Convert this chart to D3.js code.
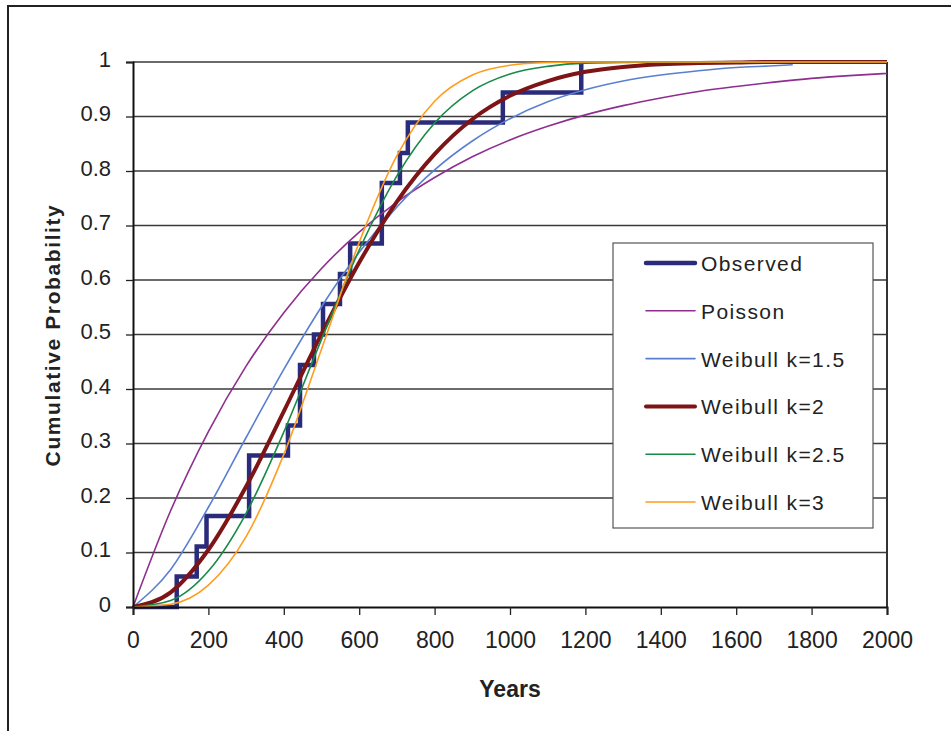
<!DOCTYPE html>
<html>
<head>
<meta charset="utf-8">
<script src="https://cdn.jsdelivr.net/npm/d3@7.9.0/dist/d3.min.js"></script>
<style>
  body { margin: 0; background: #fff; }
  svg { display: block; }
  text { font-family: "Liberation Sans", Arial, sans-serif; fill: #222; }
</style>
</head>
<body>
<svg id="chart" width="951" height="731"></svg>
<script>
// ---- data ----
const years = [0, 100, 200, 300, 400, 500, 600, 700, 800, 900, 1000,
  1100, 1200, 1300, 1400, 1500, 1600, 1700, 1800, 1900, 2000];
// the k=1.5 curve stops short of the right edge
const years15 = [0, 100, 200, 300, 400, 500, 600, 700, 800, 900, 1000,
  1100, 1200, 1300, 1400, 1500, 1600, 1700, 1750];

const poisson = [0, 0.177, 0.322, 0.442, 0.540, 0.621, 0.688, 0.743, 0.788, 0.826, 0.857,
  0.882, 0.903, 0.920, 0.934, 0.946, 0.955, 0.963, 0.970, 0.975, 0.979];
const weibull15 = [0, 0.069, 0.183, 0.311, 0.436, 0.551, 0.651, 0.734, 0.802, 0.855, 0.896,
  0.927, 0.949, 0.965, 0.976, 0.984, 0.990, 0.993, 0.995];
const weibull2 = [0, 0.027, 0.105, 0.221, 0.359, 0.501, 0.632, 0.744, 0.831, 0.895, 0.938,
  0.965, 0.982, 0.991, 0.996, 0.998, 0.999, 1, 1, 1, 1];
const weibull25 = [0, 0.012, 0.066, 0.172, 0.321, 0.491, 0.655, 0.791, 0.888, 0.947, 0.978,
  0.992, 0.998, 0.999, 1, 1, 1, 1, 1, 1, 1];
const weibull3 = [0, 0.005, 0.040, 0.129, 0.280, 0.473, 0.669, 0.828, 0.928, 0.976, 0.994,
  0.999, 1, 1, 1, 1, 1, 1, 1, 1, 1];

// observed step function (event years and cumulative probability)
const obsYears = [0, 116, 169, 195, 308, 411, 443, 480, 504, 549, 576, 660, 708, 729, 981, 1189];
const obsProb = [0, 0.056, 0.111, 0.167, 0.278, 0.333, 0.444, 0.5, 0.556, 0.611, 0.667,
  0.778, 0.833, 0.889, 0.944, 1.0];

const seriesNames = ["Observed", "Poisson", "Weibull k=1.5", "Weibull k=2", "Weibull k=2.5", "Weibull k=3"];
const seriesColors = ["#2a2b7b", "#8e2e8e", "#5a7fd0", "#7d1517", "#178a48", "#ff9d1e"];
const seriesWidths = [4.5, 1.6, 1.6, 4, 1.6, 1.6];

const xTicks = [0, 200, 400, 600, 800, 1000, 1200, 1400, 1600, 1800, 2000];
const yTicks = [0, 0.1, 0.2, 0.3, 0.4, 0.5, 0.6, 0.7, 0.8, 0.9, 1];
const yTickLabels = ["0", "0.1", "0.2", "0.3", "0.4", "0.5", "0.6", "0.7", "0.8", "0.9", "1"];

// ---- layout ----
const svg = d3.select("#chart");
const plotLeft = 133, plotRight = 887, plotTop = 62, plotBottom = 607;

const x = d3.scaleLinear().domain([0, 2000]).range([plotLeft, plotRight]);
const y = d3.scaleLinear().domain([0, 1]).range([plotBottom, plotTop]);

// outer frame (only left + top visible in the crop)
svg.append("rect")
  .attr("x", 8).attr("y", 6)
  .attr("width", 1000).attr("height", 800)
  .attr("fill", "none")
  .attr("stroke", "#222")
  .attr("stroke-width", 2);

// horizontal gridlines
svg.append("g")
  .selectAll("line")
  .data(yTicks.slice(1))
  .join("line")
  .attr("x1", plotLeft).attr("x2", plotRight)
  .attr("y1", d => y(d)).attr("y2", d => y(d))
  .attr("stroke", "#3a3a3a")
  .attr("stroke-width", 1.4);

// right border of plot area
svg.append("line")
  .attr("x1", plotRight).attr("x2", plotRight)
  .attr("y1", plotTop).attr("y2", plotBottom)
  .attr("stroke", "#333")
  .attr("stroke-width", 2);

// ---- series ----
const curveLine = d3.line()
  .x(d => x(d[0]))
  .y(d => y(d[1]))
  .curve(d3.curveMonotoneX);

const stepLine = d3.line()
  .x(d => x(d[0]))
  .y(d => y(d[1]))
  .curve(d3.curveStepAfter);

const plot = svg.append("g");

plot.append("path")
  .datum(d3.zip(obsYears, obsProb))
  .attr("d", stepLine)
  .attr("fill", "none")
  .attr("stroke", seriesColors[0])
  .attr("stroke-width", seriesWidths[0]);

const curves = [
  [years, poisson],
  [years15, weibull15],
  [years, weibull2],
  [years, weibull25],
  [years, weibull3]
];

curves.forEach(([xs, vals], i) => {
  plot.append("path")
    .datum(d3.zip(xs, vals))
    .attr("d", curveLine)
    .attr("fill", "none")
    .attr("stroke", seriesColors[i + 1])
    .attr("stroke-width", seriesWidths[i + 1])
    .attr("stroke-linejoin", "round");
});

// ---- axes ----
const yAxis = d3.axisLeft(y)
  .tickValues(yTicks)
  .tickFormat((d, i) => yTickLabels[i])
  .tickSize(7)
  .tickPadding(15);

const xAxis = d3.axisBottom(x)
  .tickValues(xTicks)
  .tickFormat(d3.format("d"))
  .tickSize(8)
  .tickPadding(17);

const gy = svg.append("g")
  .attr("transform", `translate(${plotLeft},0)`)
  .call(yAxis);
gy.select(".domain").attr("stroke", "#111").attr("stroke-width", 2);
gy.selectAll(".tick line").attr("stroke", "#222").attr("stroke-width", 1.3);
gy.selectAll(".tick text")
  .attr("font-size", 22)
  .attr("dy", "0.2em")
  .attr("fill", "#222")
  .style("font-family", "'Liberation Sans', Arial, sans-serif");

const gx = svg.append("g")
  .attr("transform", `translate(0,${plotBottom})`)
  .call(xAxis);
gx.select(".domain").attr("stroke", "#111").attr("stroke-width", 2);
gx.selectAll(".tick line").attr("stroke", "#222").attr("stroke-width", 1.3);
gx.selectAll(".tick text")
  .attr("font-size", 23)
  .attr("fill", "#222")
  .style("font-family", "'Liberation Sans', Arial, sans-serif");

// axis titles
svg.append("text")
  .attr("transform", "translate(60,335) rotate(-90)")
  .attr("text-anchor", "middle")
  .attr("font-size", 21)
  .attr("font-weight", "bold")
  .attr("letter-spacing", "1.6px")
  .text("Cumulative Probability");

svg.append("text")
  .attr("x", (plotLeft + plotRight) / 2)
  .attr("y", 697)
  .attr("text-anchor", "middle")
  .attr("font-size", 23)
  .attr("font-weight", "bold")
  .text("Years");

// ---- legend ----
const legend = svg.append("g");
legend.append("rect")
  .attr("x", 613).attr("y", 243)
  .attr("width", 260).attr("height", 285)
  .attr("fill", "#fff")
  .attr("stroke", "#555")
  .attr("stroke-width", 1.2);

const rows = legend.selectAll("g.row")
  .data(seriesNames)
  .join("g")
  .attr("class", "row")
  .attr("transform", (d, i) => `translate(0,${263 + i * 47.8})`);

rows.append("line")
  .attr("x1", 646).attr("x2", 695)
  .attr("y1", 0).attr("y2", 0)
  .attr("stroke", (d, i) => seriesColors[i])
  .attr("stroke-width", (d, i) => seriesWidths[i])
  .attr("stroke-linecap", "round");

rows.append("text")
  .attr("x", 701)
  .attr("y", 8)
  .attr("font-size", 21)
  .attr("letter-spacing", "1.4px")
  .text(d => d);
</script>
</body>
</html>
